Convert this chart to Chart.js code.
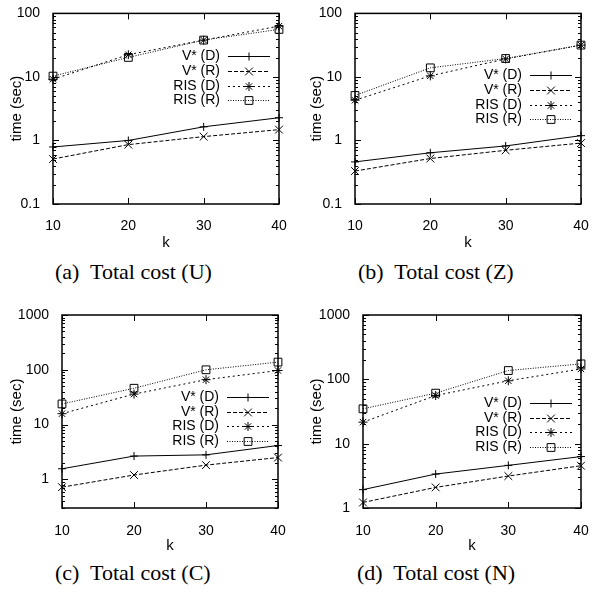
<!DOCTYPE html>
<html lang="en">
<head>
<meta charset="UTF-8">
<title>Total cost vs k</title>
<script src="https://cdn.jsdelivr.net/npm/chart.js"></script>
<style>
  body { margin: 0; background: #fff; }
  #page { position: relative; width: 607px; height: 594px; }
  .panel { position: absolute; }
  .caption {
    position: absolute;
    font-family: "Liberation Serif", "Times New Roman", serif;
    font-size: 22px;
    line-height: 1;
    color: #000;
    white-space: pre;
  }
</style>
</head>
<body>
<div id="page">
  <div class="panel" style="left:0;top:0"><canvas id="chartU" width="300" height="258"></canvas></div>
  <div class="panel" style="left:300px;top:0"><canvas id="chartZ" width="307" height="258"></canvas></div>
  <div class="panel" style="left:0;top:300px"><canvas id="chartC" width="300" height="258"></canvas></div>
  <div class="panel" style="left:300px;top:300px"><canvas id="chartN" width="307" height="258"></canvas></div>

  <div class="caption" style="left:55px;top:261px">(a)  Total cost (U)</div>
  <div class="caption" style="left:358px;top:261px">(b)  Total cost (Z)</div>
  <div class="caption" style="left:55px;top:562px">(c)  Total cost (C)</div>
  <div class="caption" style="left:357px;top:562px">(d)  Total cost (N)</div>
</div>

<script>
// x axis
const kValues = [10, 20, 30, 40];
const seriesNames = ['V* (D)', 'V* (R)', 'RIS (D)', 'RIS (R)'];

// tick labels on the log axes
const yTicksSmall = [0.1, 1, 10, 100];
const yTicksLarge = [1, 10, 100, 1000];

// (a) Total cost (U)
const vdU = [0.79, 1.0, 1.64, 2.28];
const vrU = [0.51, 0.86, 1.15, 1.48];
const risdU = [9.2, 22.4, 38, 63];
const risrU = [10.3, 20.3, 38, 56];

// (b) Total cost (Z)
const vdZ = [0.46, 0.64, 0.82, 1.19];
const vrZ = [0.33, 0.52, 0.70, 0.91];
const risdZ = [4.3, 10.4, 19.2, 31.7];
const risrZ = [5.1, 13.9, 19.5, 31.7];

// (c) Total cost (C)
const vdC = [1.56, 2.66, 2.8, 4.15];
const vrC = [0.72, 1.2, 1.82, 2.5];
const risdC = [15.8, 36, 66, 97];
const risrC = [23.8, 46, 100, 138];

// (d) Total cost (N)
const vdN = [1.93, 3.37, 4.6, 6.3];
const vrN = [1.22, 2.09, 3.14, 4.54];
const risdN = [21.6, 56, 95, 145];
const risrN = [34.8, 61, 137, 174];

const FONT = { family: '"Liberation Sans", Arial, sans-serif', size: 14 };
const TITLE_FONT = { family: '"Liberation Sans", Arial, sans-serif', size: 15 };

// gnuplot look: closed frame, inward ticks on all sides, legend with sample lines on the right
const gnuFrame = {
  id: 'gnuFrame',
  beforeDatasetsDraw(chart) {
    const { ctx, chartArea: a, scales: { x, y } } = chart;
    ctx.save();
    ctx.strokeStyle = '#000';
    ctx.lineWidth = 1;
    ctx.setLineDash([]);
    ctx.beginPath();
    // y ticks, major at decades, minor at 2..9
    const d0 = Math.floor(Math.log10(y.min)), d1 = Math.ceil(Math.log10(y.max));
    for (let d = d0; d <= d1; d++) {
      for (let m = 1; m <= 9; m++) {
        const v = m * Math.pow(10, d);
        if (v < y.min * 0.999 || v > y.max * 1.001) continue;
        const py = Math.round(y.getPixelForValue(v)) + 0.5;
        const len = m === 1 ? 6 : 3;
        ctx.moveTo(a.left, py); ctx.lineTo(a.left + len, py);
        ctx.moveTo(a.right, py); ctx.lineTo(a.right - len, py);
      }
    }
    // x ticks on bottom and top
    x.ticks.forEach((t, i) => {
      const px = Math.round(x.getPixelForTick(i)) + 0.5;
      ctx.moveTo(px, a.bottom); ctx.lineTo(px, a.bottom - 6);
      ctx.moveTo(px, a.top); ctx.lineTo(px, a.top + 6);
    });
    ctx.stroke();
    ctx.lineWidth = 1.5;
    ctx.strokeRect(a.left, a.top, a.right - a.left, a.bottom - a.top);
    ctx.restore();
  },
  afterDatasetsDraw(chart, args, opts) {
    const { ctx, chartArea: a } = chart;
    ctx.save();
    ctx.font = '14px "Liberation Sans", Arial, sans-serif';
    ctx.textAlign = 'right';
    ctx.textBaseline = 'middle';
    chart.data.datasets.forEach((ds, i) => {
      const ry = Math.round(a.top + opts.top + i * opts.gap) + 0.5;
      ctx.fillStyle = '#000';
      ctx.fillText(ds.label, a.right - 59, ry);
      ctx.strokeStyle = ds.borderColor;
      ctx.lineWidth = ds.borderWidth;
      ctx.setLineDash(ds.borderDash || []);
      ctx.beginPath();
      ctx.moveTo(a.right - 51, ry);
      ctx.lineTo(a.right - 9, ry);
      ctx.stroke();
      ctx.setLineDash([]);
      ctx.fillStyle = 'rgba(0,0,0,0)';
      Chart.helpers.drawPoint(ctx, {
        pointStyle: ds.pointStyle, radius: ds.pointRadius, rotation: 0, borderWidth: 1
      }, a.right - 30, ry);
    });
    ctx.restore();
  }
};

function series(label, data, dash, style, radius) {
  return {
    label: label,
    data: data,
    borderColor: '#000',
    backgroundColor: 'rgba(0,0,0,0)',
    borderWidth: 1,
    borderDash: dash,
    pointStyle: style,
    pointRadius: radius,
    pointBorderWidth: 1,
    pointBorderColor: '#000',
    pointBackgroundColor: 'rgba(0,0,0,0)',
    tension: 0,
    clip: false
  };
}

function makeChart(id, vd, vr, risd, risr, yMin, yMax, yTicks, box) {
  const canvas = document.getElementById(id);
  return new Chart(canvas, {
    type: 'line',
    data: {
      labels: kValues,
      datasets: [
        series(seriesNames[0], vd, [], 'cross', 4),
        series(seriesNames[1], vr, [4, 2], 'crossRot', 5.5),
        series(seriesNames[2], risd, [2, 3], 'star', 4.5),
        series(seriesNames[3], risr, [1, 1.5], 'rect', 5.5)
      ]
    },
    options: {
      responsive: false,
      animation: false,
      layout: { padding: { left: 0, top: box.top, right: canvas.width - box.right, bottom: 0 } },
      plugins: {
        legend: { display: false },
        tooltip: { enabled: false },
        gnuFrame: { top: box.legendTop, gap: 14.6 }
      },
      scales: {
        x: {
          type: 'category',
          offset: false,
          grid: { display: false },
          border: { display: false },
          ticks: { color: '#000', font: FONT, padding: box.xPad, maxRotation: 0, autoSkip: false },
          title: { display: true, text: 'k', color: '#000', font: TITLE_FONT, padding: { top: 0, bottom: box.kPad } },
          afterFit(s) { s.height = canvas.height - box.bottom; }
        },
        y: {
          type: 'logarithmic',
          min: yMin,
          max: yMax,
          grid: { display: false },
          border: { display: false },
          ticks: { color: '#000', font: FONT, padding: 5, autoSkip: false, callback: v => String(v) },
          afterBuildTicks(s) { s.ticks = yTicks.map(v => ({ value: v })); },
          title: { display: true, text: 'time (sec)', color: '#000', font: TITLE_FONT, padding: { top: 8, bottom: 0 } },
          afterFit(s) { s.width = box.left; }
        }
      }
    },
    plugins: [gnuFrame]
  });
}

makeChart('chartU', vdU, vrU, risdU, risrU, 0.1, 100, yTicksSmall,
  { left: 53, top: 10, right: 279, bottom: 204, xPad: 6, kPad: 6, legendTop: 43 });
makeChart('chartZ', vdZ, vrZ, risdZ, risrZ, 0.1, 100, yTicksSmall,
  { left: 55, top: 10, right: 281, bottom: 204, xPad: 6, kPad: 6, legendTop: 62 });
makeChart('chartC', vdC, vrC, risdC, risrC, 0.3, 1000, yTicksLarge,
  { left: 62, top: 15, right: 278, bottom: 208, xPad: 7, kPad: 3, legendTop: 82 });
makeChart('chartN', vdN, vrN, risdN, risrN, 1, 1000, yTicksLarge,
  { left: 63, top: 15, right: 281, bottom: 208, xPad: 7, kPad: 3, legendTop: 88 });
</script>
</body>
</html>
